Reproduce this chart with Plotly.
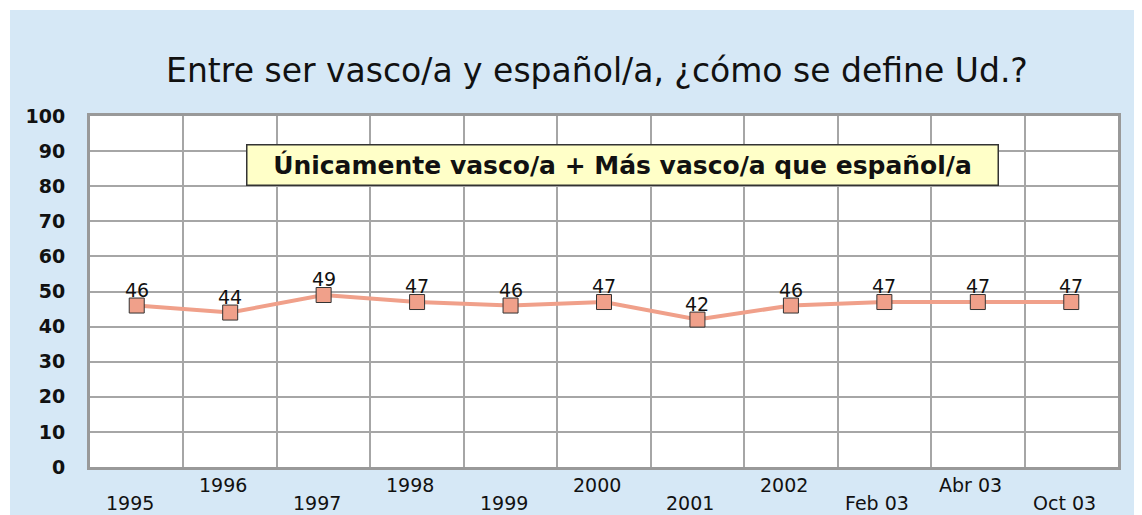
import plotly.graph_objects as go

categories = ["1995", "1996", "1997", "1998", "1999", "2000", "2001", "2002", "Feb 03", "Abr 03", "Oct 03"]
values = [46, 44, 49, 47, 46, 47, 42, 46, 47, 47, 47]
y_ticks = list(range(0, 101, 10))

title_text = "Entre ser vasco/a y español/a, ¿cómo se define Ud.?"
box_text = "Únicamente vasco/a + Más vasco/a que español/a"

# page has an 8px body margin; work in page pixels and convert
OFF = 8
W, H = 1142 - OFF, 515 - OFF
L, R, T, B = 90 - OFF, 24, 116 - OFF, 48
pw, ph = W - L - R, H - T - B

def px_to_paper_x(px):
    return (px - OFF - L) / pw

def py_to_paper_y(py):
    return (H - B - (py - OFF)) / ph

xs = list(range(len(categories)))
font = "DejaVu Sans, Liberation Sans, Arial, sans-serif"

fig = go.Figure()
fig.add_trace(go.Scatter(
    x=xs, y=values, mode="lines+markers",
    line=dict(color="#F0A08A", width=4),
    marker=dict(symbol="square", size=15, color="#F0A08A", line=dict(color="#333333", width=1)),
    hoverinfo="skip", showlegend=False, cliponaxis=False,
))

shapes = [
    dict(type="rect", xref="paper", yref="paper", layer="below",
         x0=px_to_paper_x(10), x1=px_to_paper_x(1160), y0=py_to_paper_y(530), y1=py_to_paper_y(10),
         fillcolor="#D6E8F6", line=dict(width=0)),
    dict(type="rect", xref="paper", yref="paper", layer="below",
         x0=0, x1=1, y0=0, y1=1, fillcolor="white", line=dict(width=0)),
]

annotations = []
# value labels just above each marker
for x, v in zip(xs, values):
    annotations.append(dict(
        x=x, xref="x", y=v, yref="y", text=str(v), showarrow=False,
        xanchor="center", yanchor="bottom", yshift=3,
        font=dict(family=font, size=19, color="#111111"),
    ))
for i, c in enumerate(categories):
    annotations.append(dict(
        x=i, xref="x", y=py_to_paper_y(503 if i % 2 == 0 else 485), yref="paper",
        text=c, showarrow=False, yanchor="middle", xanchor="center", xshift=-7,
        font=dict(family=font, size=19, color="#111111"),
    ))
annotations.append(dict(
    x=px_to_paper_x(622), xref="paper", y=py_to_paper_y(165), yref="paper",
    text="<b>" + box_text + "</b>", showarrow=False, xanchor="center", yanchor="middle",
    width=748, height=37, bgcolor="#FFFFC8", bordercolor="#333333", borderwidth=1.5,
    font=dict(family=font, size=25, color="#111111"),
))

fig.update_layout(
    width=W, height=H,
    margin=dict(l=L, r=R, t=T, b=B, pad=0),
    paper_bgcolor="white", plot_bgcolor="white",
    title=dict(text=title_text, x=(597 - OFF) / W, xanchor="center", y=1 - (70 - OFF) / H, yanchor="middle",
               font=dict(family=font, size=33, color="#111111")),
    shapes=shapes, annotations=annotations,
    xaxis=dict(range=[-0.5, len(categories) - 0.5], tickvals=[i + 0.5 for i in range(len(categories) - 1)],
               showticklabels=False, showgrid=True, gridcolor="#A6A6A6", gridwidth=1.5,
               showline=True, linecolor="#999999", linewidth=3, mirror=True, zeroline=False, ticks=""),
    yaxis=dict(range=[0, 100], tickvals=y_ticks, ticktext=["<b>%d</b>" % v for v in y_ticks],
               showgrid=True, gridcolor="#A6A6A6", gridwidth=1.5, zeroline=False,
               showline=True, linecolor="#999999", linewidth=3, mirror=True, ticks="",
               ticklabelstandoff=18, tickfont=dict(family=font, size=19, color="#111111")),
)

fig.write_html("out.html")
